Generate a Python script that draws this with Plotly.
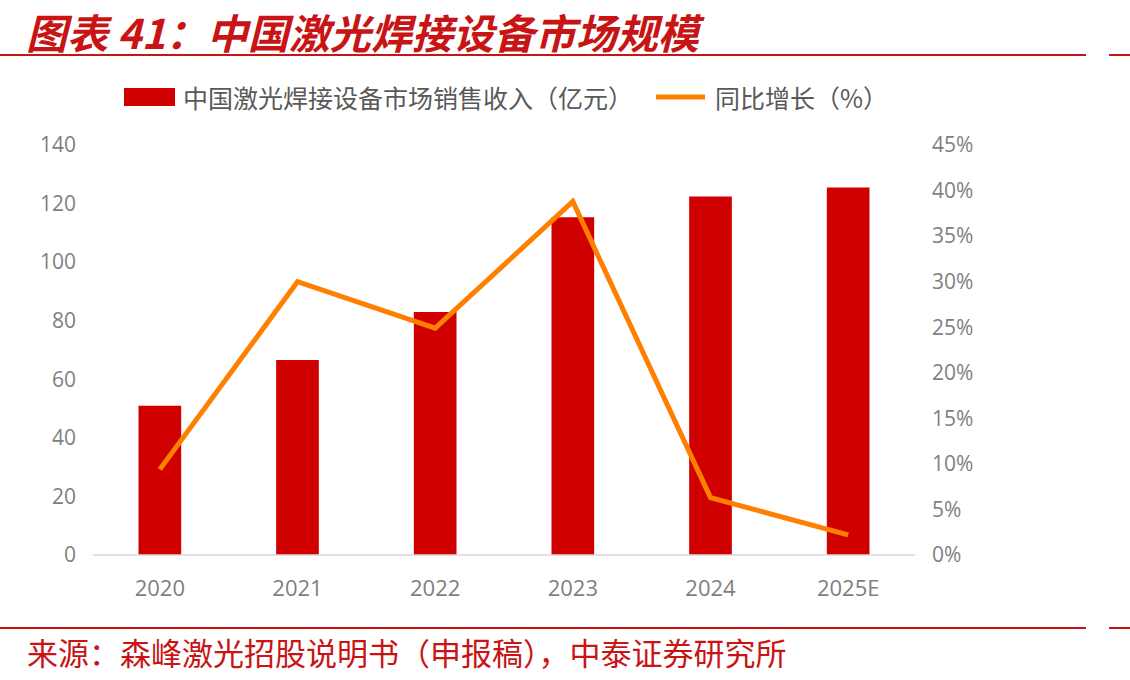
import plotly.graph_objects as go

years = ["2020", "2021", "2022", "2023", "2024", "2025E"]
sales = [51, 66.6, 83, 115.3, 122.4, 125.5]          # 亿元
growth = [9.4, 30.0, 24.9, 38.8, 6.3, 2.2]            # %

bar_name = "中国激光焊接设备市场销售收入（亿元）"
line_name = "同比增长（%）"
title_text = "图表 41：中国激光焊接设备市场规模"
source_text = "来源：森峰激光招股说明书（申报稿），中泰证券研究所"

W_PX, H_PX = 1130, 680
L, R, T, B = 91, 213, 145, 125
PW, PH = W_PX - L - R, H_PX - T - B

def px(x):
    return (x - L) / PW

def py(y):
    return 1 - (y - T) / PH

RED = "#D10000"
ORANGE = "#FF8000"
TITLE_RED = "#C81414"
TICK_GRAY = "#7F7F7F"
CJK = "Noto Sans CJK SC"
NUM_FONT = "Open Sans"

fig = go.Figure()
fig.add_trace(go.Bar(x=years, y=sales, name=bar_name, marker=dict(color=RED, line=dict(width=0)),
                     yaxis="y", showlegend=False))
fig.add_trace(go.Scatter(x=years, y=growth, name=line_name, mode="lines",
                         line=dict(color=ORANGE, width=5), yaxis="y2", showlegend=False))

shapes = []
# header / footer rules
for y in (55, 628):
    shapes.append(dict(type="line", xref="paper", yref="paper", x0=px(0), x1=px(1086), y0=py(y), y1=py(y),
                       line=dict(color=TITLE_RED, width=2)))
    shapes.append(dict(type="line", xref="paper", yref="paper", x0=px(1109), x1=px(1130), y0=py(y), y1=py(y),
                       line=dict(color=TITLE_RED, width=2)))
# baseline
shapes.append(dict(type="line", xref="paper", yref="paper", x0=px(93), x1=px(915), y0=0, y1=0,
                   line=dict(color="#D9D9D9", width=1.5)))
# legend symbols
shapes.append(dict(type="rect", xref="paper", yref="paper", x0=px(124), x1=px(175), y0=py(106), y1=py(88),
                   fillcolor=RED, line=dict(width=0)))
shapes.append(dict(type="line", xref="paper", yref="paper", x0=px(656), x1=px(705), y0=py(97), y1=py(97),
                   line=dict(color=ORANGE, width=5)))

annotations = [
    dict(text=f"<b><i>{title_text}</i></b>", xref="paper", yref="paper", x=px(24), y=py(31),
         xanchor="left", yanchor="middle", showarrow=False,
         font=dict(family=CJK, size=41, color=TITLE_RED)),
    dict(text=source_text, xref="paper", yref="paper", x=px(25), y=py(651),
         xanchor="left", yanchor="middle", showarrow=False,
         font=dict(family=CJK, size=31, color=TITLE_RED)),
    dict(text=bar_name, xref="paper", yref="paper", x=px(181), y=py(97),
         xanchor="left", yanchor="middle", showarrow=False,
         font=dict(family=CJK, size=25, color="#595959")),
    dict(text=line_name, xref="paper", yref="paper", x=px(713), y=py(97),
         xanchor="left", yanchor="middle", showarrow=False,
         font=dict(family=CJK, size=25, color="#595959")),
]

fig.update_layout(
    width=W_PX, height=H_PX,
    margin=dict(l=L, r=R, t=T, b=B, autoexpand=False),
    paper_bgcolor="white", plot_bgcolor="white",
    bargap=0.69,
    showlegend=False,
    shapes=shapes,
    annotations=annotations,
    xaxis=dict(type="category", showgrid=False, showline=False, zeroline=False, ticks="",
               tickfont=dict(family=NUM_FONT, size=22, color=TICK_GRAY), ticklabelstandoff=18),
    yaxis=dict(range=[0, 140], dtick=20, showgrid=False, zeroline=False, showline=False, ticks="",
               tickfont=dict(family=NUM_FONT, size=21, color=TICK_GRAY), ticklabelstandoff=14),
    yaxis2=dict(range=[0, 45], dtick=5, ticksuffix="%", overlaying="y", side="right",
                showgrid=False, zeroline=False, showline=False, ticks="",
                tickfont=dict(family=NUM_FONT, size=21, color=TICK_GRAY), ticklabelstandoff=14),
)

fig.write_html("out.html")
